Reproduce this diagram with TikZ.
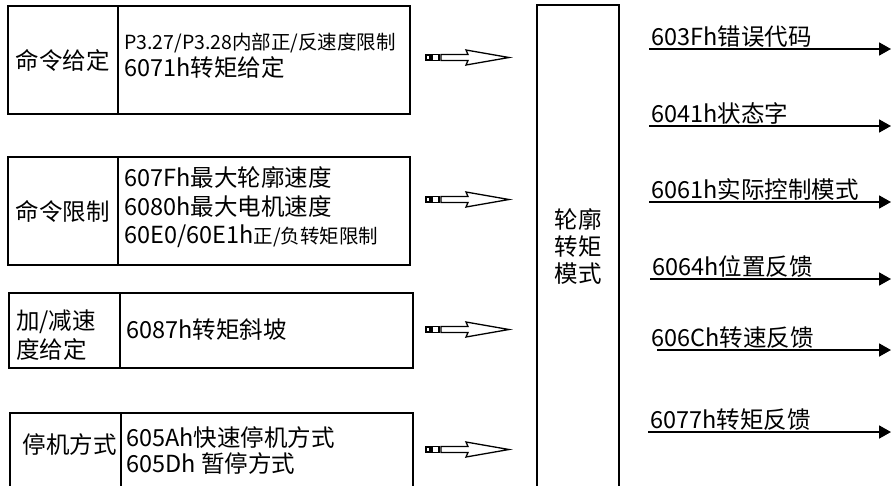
\documentclass[tikz,border=0pt]{standalone}
\usepackage{fontspec}
\setmainfont{Noto Sans CJK SC}
\usepackage{tikz}
\usetikzlibrary{arrows.meta}

\tikzset{
  cell/.style={draw, rectangle, line width=1.8pt, inner sep=0pt},
  txt/.style={inner sep=0pt, anchor=west, text height=0.88em, text depth=0.12em,
              font=\fontsize{23.5}{28}\selectfont},
  small/.style={txt, font=\fontsize{19.5}{22}\selectfont},
  outlabel/.style={inner sep=2pt, anchor=south west, text depth=0.12em,
              font=\fontsize{23.5}{28}\selectfont},
  outarrow/.style={line width=1.8pt, -{Triangle[length=12pt,width=13pt]}},
  hollow/.style={draw, line width=1.3pt, fill=white}
}

\begin{document}
\begin{tikzpicture}[x=1pt, y=-1pt]
    \useasboundingbox (0,0) rectangle (891,485);
    \clip (0,0) rectangle (891,485);

    % input blocks
    \node[cell, minimum width=110pt, minimum height=108pt, font=\fontsize{23.5}{28}\selectfont] (cmdL) at (63,60) {命令给定};
    \node[cell, minimum width=292pt, minimum height=108pt] (cmdR) at (264,60) {};
    \node[small] (cmd1) at (124,46) {P3.27/P3.28内部正/反速度限制};
    \node[txt] (cmd2) at (124,73) {6071h转矩给定};

    \node[cell, minimum width=110pt, minimum height=108pt, font=\fontsize{23.5}{28}\selectfont] (limL) at (63,211) {命令限制};
    \node[cell, minimum width=292pt, minimum height=108pt] (limR) at (264,211) {};
    \node[txt] (lim1) at (124,183) {607Fh最大轮廓速度};
    \node[txt] (lim2) at (124,212) {6080h最大电机速度};
    \node[txt] (lim3) at (124,240) {60E0/60E1h{\fontsize{19.5}{22}\selectfont 正/负转矩限制}};

    \node[cell, minimum width=111pt, minimum height=75pt] (accL) at (64.5,330.5) {};
    \node[cell, minimum width=293pt, minimum height=75pt] (accR) at (266.5,330.5) {};
    \node[inner sep=0pt, anchor=west, align=left, font=\fontsize{23.5}{29}\selectfont] (accT) at (16,335) {加/减速\\度给定};
    \node[txt] (acc1) at (126,335) {6087h转矩斜坡};

    \node[cell, minimum width=111pt, minimum height=107pt] (stopL) at (65.5,466.5) {};
    \node[cell, minimum width=292pt, minimum height=107pt] (stopR) at (267,466.5) {};
    \node[txt, anchor=center] (stopT) at (69.5,450) {停机方式};
    \node[txt] (stop1) at (126,443) {605Ah快速停机方式};
    \node[txt] (stop2) at (126,469) {605Dh 暂停方式};

    % hollow arrows
    \foreach \name/\y in {in1/57.5, in2/199.5, in3/329.5, in4/449.5} {
        \coordinate (\name) at (426,\y);
        \draw[hollow] ([yshift=-2.5pt]\name) rectangle ([xshift=4pt,yshift=2.5pt]\name);
        \draw[hollow] ([xshift=6pt,yshift=-3pt]\name) rectangle ([xshift=13pt,yshift=3pt]\name);
        \draw[hollow] ([xshift=15pt,yshift=-3pt]\name) -- ([xshift=42pt,yshift=-3pt]\name)
            -- ([xshift=40pt,yshift=-7.5pt]\name) -- ([xshift=83pt]\name)
            -- ([xshift=40pt,yshift=7.5pt]\name) -- ([xshift=42pt,yshift=3pt]\name)
            -- ([xshift=15pt,yshift=3pt]\name) -- cycle;
    }

    % mode block
    \node[cell, minimum width=82pt, minimum height=515pt] (mode) at (578,262.5) {};
    \node[inner sep=0pt, align=center, font=\fontsize{23.5}{27}\selectfont] (modeT) at (578,247) {轮廓\\转矩\\模式};

    % outputs
    \coordinate (o1) at (649,49);  \coordinate (e1) at (891,49);
    \coordinate (o2) at (649,126); \coordinate (e2) at (891,126);
    \coordinate (o3) at (649,202); \coordinate (e3) at (891,202);
    \coordinate (o4) at (650,279); \coordinate (e4) at (891,279);
    \coordinate (o5) at (657,350); \coordinate (e5) at (891,350);
    \coordinate (o6) at (648,432); \coordinate (e6) at (891,432);

    \draw[outarrow] (o1) -- (e1);
    \draw[outarrow] (o2) -- (e2);
    \draw[outarrow] (o3) -- (e3);
    \draw[outarrow] (o4) -- (e4);
    \draw[outarrow] (o5) -- (e5);
    \draw[outarrow] (o6) -- (e6);

    \node[outlabel] (err) at (o1) {603Fh错误代码};
    \node[outlabel] (sta) at (o2) {6041h状态字};
    \node[outlabel] (act) at (o3) {6061h实际控制模式};
    \node[outlabel] (pos) at (o4) {6064h位置反馈};
    \node[outlabel] (spd) at ([xshift=-8pt]o5) {606Ch转速反馈};
    \node[outlabel] (trq) at (o6) {6077h转矩反馈};
\end{tikzpicture}
\end{document}
